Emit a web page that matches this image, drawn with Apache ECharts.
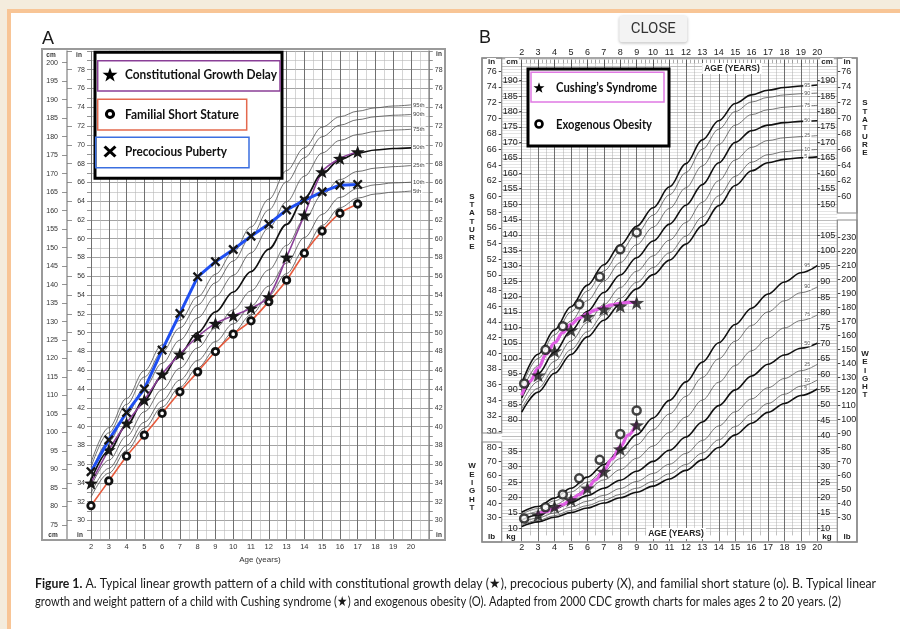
<!DOCTYPE html>
<html>
<head>
<meta charset="utf-8">
<title>Growth charts – linear growth and weight patterns</title>
<script src="https://cdn.jsdelivr.net/npm/echarts@6.0.0/dist/echarts.min.js"></script>
<style>
  html, body { margin: 0; padding: 0; background: #ffffff; }
  #chart { width: 900px; height: 629px; }
</style>
</head>
<body>
<div id="chart"></div>
<script>
// ---------- CDC reference percentiles, boys 2–20 years ----------
const PCT_AGES = [2, 3, 4, 5, 6, 7, 8, 9, 10, 11, 12, 13, 14, 15, 16, 17, 18, 19, 20];
const PCT_NAMES = ['5th', '10th', '25th', '50th', '75th', '90th', '95th'];

// stature (cm)
const STATURE_P5  = [82.5, 89.0, 95.1, 101.2, 106.9, 112.3, 117.5, 122.5, 127.1, 131.8, 137.0, 143.0, 149.5, 156.0, 160.8, 163.4, 164.5, 165.0, 165.3];
const STATURE_P10 = [83.6, 90.3, 96.5, 102.8, 108.6, 114.2, 119.5, 124.6, 129.4, 134.2, 139.6, 145.8, 152.7, 159.0, 163.6, 166.0, 167.0, 167.5, 167.7];
const STATURE_P25 = [85.3, 92.5, 99.0, 105.6, 111.6, 117.4, 122.9, 128.2, 133.2, 138.3, 144.0, 150.6, 157.6, 164.3, 168.4, 170.6, 171.5, 171.9, 172.2];
const STATURE_P50 = [87.1, 95.0, 102.0, 108.9, 115.2, 121.3, 127.0, 132.6, 138.0, 143.5, 149.6, 156.3, 163.4, 170.0, 173.8, 175.6, 176.4, 176.8, 177.0];
const STATURE_P75 = [88.9, 97.6, 104.9, 112.1, 118.7, 125.0, 131.0, 136.8, 142.5, 148.6, 155.3, 162.4, 169.3, 175.6, 179.0, 180.6, 181.4, 181.8, 182.0];
const STATURE_P90 = [90.6, 99.9, 107.6, 115.0, 121.8, 128.3, 134.5, 140.5, 146.4, 153.0, 160.2, 167.8, 174.3, 180.0, 183.1, 184.6, 185.4, 185.8, 186.0];
const STATURE_P95 = [91.8, 101.3, 109.2, 116.7, 123.7, 130.3, 136.7, 142.8, 148.8, 155.6, 163.1, 170.8, 177.0, 182.6, 185.4, 186.9, 187.8, 188.3, 188.6];

// weight (kg)
const WEIGHT_P5  = [10.6, 12.1, 13.6, 15.1, 16.6, 18.2, 19.9, 21.7, 23.7, 26.0, 28.8, 32.2, 36.2, 40.3, 44.1, 47.6, 50.5, 53.1, 55.2];
const WEIGHT_P10 = [11.0, 12.6, 14.1, 15.8, 17.4, 19.1, 21.0, 23.0, 25.2, 27.7, 30.7, 34.4, 38.7, 43.0, 47.0, 50.5, 53.5, 56.1, 58.1];
const WEIGHT_P25 = [11.8, 13.4, 15.0, 16.9, 18.8, 20.7, 22.9, 25.2, 27.8, 30.8, 34.3, 38.5, 43.2, 47.8, 52.0, 55.6, 58.6, 61.1, 63.2];
const WEIGHT_P50 = [12.7, 14.3, 16.3, 18.4, 20.6, 23.0, 25.6, 28.5, 31.7, 35.3, 39.6, 44.5, 49.8, 54.9, 59.4, 63.2, 66.2, 68.4, 70.0];
const WEIGHT_P75 = [13.7, 15.4, 17.6, 20.1, 22.8, 25.7, 29.0, 32.7, 36.7, 41.1, 46.1, 51.6, 57.4, 62.8, 67.6, 71.7, 75.0, 77.4, 79.2];
const WEIGHT_P90 = [14.6, 16.4, 18.9, 21.8, 25.0, 28.6, 32.6, 37.1, 42.0, 47.1, 52.8, 58.9, 65.0, 70.7, 75.8, 80.2, 83.8, 86.4, 88.3];
const WEIGHT_P95 = [15.2, 17.1, 19.8, 23.0, 26.6, 30.7, 35.3, 40.4, 45.8, 51.5, 57.5, 63.9, 70.2, 76.1, 81.4, 86.0, 89.9, 92.9, 95.2];

// ---------- Panel A: stature (cm) of three example children ----------
const CGD_AGES = [2, 3, 4, 5, 6, 7, 8, 9, 10, 11, 12, 13, 14, 15, 16, 17];
const CGD_STATURE = [86.3, 95.3, 102.5, 108.8, 115.8, 121.2, 125.9, 129.5, 131.6, 133.6, 136.7, 147.4, 158.8, 170.5, 174.1, 175.9];
const FSS_AGES = [2, 3, 4, 5, 6, 7, 8, 9, 10, 11, 12, 13, 14, 15, 16, 17];
const FSS_STATURE = [80.2, 86.9, 93.6, 99.3, 105.2, 111.0, 116.4, 121.9, 126.6, 130.2, 135.4, 141.2, 148.5, 154.5, 159.3, 161.8];
const PP_AGES = [2, 3, 4, 5, 6, 7, 8, 9, 10, 11, 12, 13, 14, 15, 16, 17];
const PP_STATURE = [89.4, 98.0, 105.4, 111.8, 122.3, 132.2, 142.1, 146.2, 149.5, 153.1, 156.4, 160.2, 162.8, 165.1, 166.9, 167.1];

// ---------- Panel B: stature (cm) and weight (kg) ----------
const CUSHING_AGES = [3, 4, 5, 6, 7, 8, 9];
const CUSHING_STATURE = [94.5, 102.3, 109.1, 113.5, 115.9, 116.9, 118.0];
const CUSHING_WEIGHT = [14.3, 17.0, 19.2, 23.0, 28.4, 35.7, 43.5];
const OBESITY_AGES = [2.15, 3.45, 4.5, 5.5, 6.75, 8.0, 9.0];
const OBESITY_STATURE = [91.8, 102.7, 110.4, 117.5, 126.4, 135.3, 140.8];
const OBESITY_WEIGHT = [13.2, 16.8, 21.0, 26.2, 32.2, 40.6, 48.2];
// drawn trend curves for the Cushing child
const CUSHING_TREND_STATURE_AGES = [2, 2.5, 3, 3.5, 4, 4.5, 5, 5.5, 6, 6.5, 7, 7.5, 8, 8.5, 9];
const CUSHING_TREND_STATURE = [88.0, 92.5, 96.8, 101.3, 105.0, 108.3, 111.0, 113.0, 114.5, 115.7, 116.6, 117.3, 117.8, 118.1, 118.2];
const CUSHING_TREND_WEIGHT_AGES = [2.9, 3.5, 4, 4.5, 5, 5.5, 6, 6.5, 7, 7.5, 8, 8.5, 9];
const CUSHING_TREND_WEIGHT = [14.6, 15.4, 16.5, 17.7, 19.2, 20.9, 23.0, 25.7, 28.9, 32.5, 36.5, 40.3, 44.3];

// ---------- tick labels ----------
const A_CM_LABELS = [75, 80, 85, 90, 95, 100, 105, 110, 115, 120, 125, 130, 135, 140, 145, 150, 155, 160, 165, 170, 175, 180, 185, 190, 195, 200];
const A_IN_LABELS = [30, 32, 34, 36, 38, 40, 42, 44, 46, 48, 50, 52, 54, 56, 58, 60, 62, 64, 66, 68, 70, 72, 74, 76, 78];
const B_CM_LEFT = [80, 85, 90, 95, 100, 105, 110, 115, 120, 125, 130, 135, 140, 145, 150, 155, 160, 165, 170, 175, 180, 185, 190];
const B_CM_RIGHT = [150, 155, 160, 165, 170, 175, 180, 185, 190];
const B_IN_LEFT = [30, 32, 34, 36, 38, 40, 42, 44, 46, 48, 50, 52, 54, 56, 58, 60, 62, 64, 66, 68, 70, 72, 74, 76];
const B_IN_RIGHT = [60, 62, 64, 66, 68, 70, 72, 74, 76];
const B_KG_LEFT = [10, 15, 20, 25, 30, 35];
const B_KG_RIGHT = [10, 15, 20, 25, 30, 35, 40, 45, 50, 55, 60, 65, 70, 75, 80, 85, 90, 95, 100, 105];
const B_LB_LEFT = [30, 40, 50, 60, 70, 80];
const B_LB_RIGHT = [30, 40, 50, 60, 70, 80, 90, 100, 110, 120, 130, 140, 150, 160, 170, 180, 190, 200, 210, 220, 230];

// ---------- shared styling ----------
const FONT = '"Liberation Sans", Arial, Helvetica, sans-serif';
const LEGEND_FONT = 'Lato, "Open Sans", sans-serif';
// star and cross outlines, used both as series symbols and legend icons
const STAR_PTS = [[10, 0], [12.35, 6.76], [19.51, 6.91], [13.8, 11.24], [15.88, 18.09], [10, 14], [4.12, 18.09], [6.2, 11.24], [0.49, 6.91], [7.65, 6.76]];
const CROSS_PTS = [[0, 2], [2, 0], [6, 4], [10, 0], [12, 2], [8, 6], [12, 10], [10, 12], [6, 8], [2, 12], [0, 10], [4, 6]];
const toSvg = pts => 'path://M' + pts.map(p => p.join(',')).join(' L') + ' Z';
const COL_PURPLE = '#8a3f97';
const COL_RED = '#e65a3c';
const COL_BLUE = '#1f4ff2';
const COL_PINK = '#e05fe4';

const CM_PER_IN = 2.54;
const LB_PER_KG = 2.20462;
// panel B: stature (cm) and weight (kg) share one pixel scale; cm = kg + shift
const B_KG_MIN = 9, B_KG_MAX = 162, B_CM_SHIFT = 34.82;

const zip = (xs, ys) => xs.map((x, i) => [x, ys[i]]);

// text measuring, used to fit text runs to their widths
const measureCtx = document.createElement('canvas').getContext('2d');
function textWidth(str, font) { measureCtx.font = font; return measureCtx.measureText(str).width; }

// ---------- series ----------
const series = [];
const STATURE_SETS = [STATURE_P5, STATURE_P10, STATURE_P25, STATURE_P50, STATURE_P75, STATURE_P90, STATURE_P95];
const WEIGHT_SETS = [WEIGHT_P5, WEIGHT_P10, WEIGHT_P25, WEIGHT_P50, WEIGHT_P75, WEIGHT_P90, WEIGHT_P95];

// Panel A percentile curves
STATURE_SETS.forEach((vals, i) => {
  const bold = i === 3;
  series.push({
    type: 'line', name: PCT_NAMES[i], xAxisIndex: 0, yAxisIndex: 2,
    data: zip(PCT_AGES, vals), smooth: 0.35, smoothMonotone: 'x',
    symbol: 'none', silent: true, z: 3,
    lineStyle: { color: bold ? '#111' : '#4d4d4d', width: bold ? 1.7 : 0.8 },
    endLabel: { show: true, formatter: PCT_NAMES[i], fontSize: 6, color: '#444', fontFamily: FONT,
      backgroundColor: '#fff', padding: [0, 1], distance: 1 }
  });
});

// Panel B percentile curves (stature and weight)
const B_PCT_LABELS = ['5', '10', '25', '50', '75', '90', '95'];
STATURE_SETS.forEach((vals, i) => {
  const bold = i === 0 || i === 3 || i === 6;
  series.push({
    type: 'line', name: 'B stature ' + B_PCT_LABELS[i], xAxisIndex: 1, yAxisIndex: 4,
    data: zip(PCT_AGES, vals), smooth: 0.35, smoothMonotone: 'x',
    symbol: 'none', silent: true, z: 3,
    lineStyle: { color: bold ? '#111' : '#555', width: bold ? 1.6 : 0.8 },
    endLabel: { show: true, formatter: B_PCT_LABELS[i], fontSize: 5.5, color: '#555', fontFamily: FONT,
      backgroundColor: '#fff', padding: [0, 1], distance: 0, offset: [-14, 0] }
  });
});
WEIGHT_SETS.forEach((vals, i) => {
  const bold = i === 0 || i === 3 || i === 6;
  series.push({
    type: 'line', name: 'B weight ' + B_PCT_LABELS[i], xAxisIndex: 1, yAxisIndex: 5,
    data: zip(PCT_AGES, vals), smooth: 0.35, smoothMonotone: 'x',
    symbol: 'none', silent: true, z: 3,
    lineStyle: { color: bold ? '#111' : '#555', width: bold ? 1.6 : 0.8 },
    endLabel: { show: true, formatter: B_PCT_LABELS[i], fontSize: 5.5, color: '#555', fontFamily: FONT,
      backgroundColor: '#fff', padding: [0, 1], distance: 0, offset: [-14, 0] }
  });
});

// Panel A children
series.push({
  type: 'line', name: 'Familial Short Stature', xAxisIndex: 0, yAxisIndex: 2,
  data: zip(FSS_AGES, FSS_STATURE), smooth: 0.25, z: 6,
  lineStyle: { color: COL_RED, width: 1.6 },
  symbol: 'circle', symbolSize: 6.5,
  itemStyle: { color: '#fff', borderColor: '#111', borderWidth: 2.8 }
});
series.push({
  type: 'line', name: 'Constitutional Growth Delay', xAxisIndex: 0, yAxisIndex: 2,
  data: zip(CGD_AGES, CGD_STATURE), smooth: 0.3, z: 7,
  lineStyle: { color: COL_PURPLE, width: 1.6 },
  symbol: toSvg(STAR_PTS), symbolSize: [14, 13],
  itemStyle: { color: '#161616' }
});
series.push({
  type: 'line', name: 'Precocious Puberty', xAxisIndex: 0, yAxisIndex: 2,
  data: zip(PP_AGES, PP_STATURE), smooth: false, z: 8,
  lineStyle: { color: COL_BLUE, width: 3 },
  symbol: toSvg(CROSS_PTS), symbolSize: 10,
  itemStyle: { color: '#161616' }
});

// Panel B children
series.push({
  type: 'line', name: 'Cushing stature trend', xAxisIndex: 1, yAxisIndex: 4,
  data: zip(CUSHING_TREND_STATURE_AGES, CUSHING_TREND_STATURE), smooth: 0.4, smoothMonotone: 'x',
  symbol: 'none', z: 5, lineStyle: { color: COL_PINK, width: 3.2 }
});
series.push({
  type: 'line', name: 'Cushing weight trend', xAxisIndex: 1, yAxisIndex: 5,
  data: zip(CUSHING_TREND_WEIGHT_AGES, CUSHING_TREND_WEIGHT), smooth: 0.4, smoothMonotone: 'x',
  symbol: 'none', z: 5, lineStyle: { color: COL_PINK, width: 3.2 }
});
[[CUSHING_STATURE, 4], [CUSHING_WEIGHT, 5]].forEach(([vals, ax]) => {
  series.push({
    type: 'scatter', name: "Cushing's Syndrome", xAxisIndex: 1, yAxisIndex: ax,
    data: zip(CUSHING_AGES, vals), symbol: toSvg(STAR_PTS), symbolSize: [15, 14], z: 6,
    itemStyle: { color: '#161616' }
  });
});
[[OBESITY_STATURE, 4], [OBESITY_WEIGHT, 5]].forEach(([vals, ax]) => {
  series.push({
    type: 'scatter', name: 'Exogenous Obesity', xAxisIndex: 1, yAxisIndex: ax,
    data: zip(OBESITY_AGES, vals), symbol: 'circle', symbolSize: 8, z: 7,
    itemStyle: { color: '#fff', borderColor: '#161616', borderWidth: 2.5 }
  });
});

// ---------- axes ----------
const hideAll = { axisLine: { show: false }, axisTick: { show: false }, axisLabel: { show: false }, splitLine: { show: false } };
const lbl = (extra) => Object.assign({ fontSize: 9, color: '#222', fontFamily: FONT }, extra);

const xAxis = [
  { // A bottom
    gridIndex: 0, type: 'value', min: 2, max: 21, interval: 1, position: 'bottom',
    axisLine: { show: false }, axisTick: { show: false },
    axisLabel: { fontSize: 7.5, color: '#333', fontFamily: FONT, margin: 4,
      formatter: v => (v >= 2 && v <= 20) ? String(v) : '' },
    splitLine: { show: true, lineStyle: { color: '#707070', width: 1 } },
    minorTick: { show: false, splitNumber: 2 },
    minorSplitLine: { show: true, lineStyle: { color: '#b9b9b9', width: 0.6 } },
    name: 'Age (years)', nameLocation: 'middle', nameGap: 16,
    nameTextStyle: { fontSize: 8, color: '#333', fontFamily: FONT }
  },
  { // B bottom
    gridIndex: 1, type: 'value', min: 2, max: 20, interval: 1, position: 'bottom',
    axisLine: { show: false },
    axisTick: { show: true, length: 10, lineStyle: { color: '#666', width: 0.9 } },
    minorTick: { show: true, splitNumber: 2, length: 4, lineStyle: { color: '#999', width: 0.6 } },
    axisLabel: lbl({ margin: 11.5 }),
    splitLine: { show: true, lineStyle: { color: '#5f5f5f', width: 0.9 } },
    minorSplitLine: { show: true, lineStyle: { color: '#ababab', width: 0.5 } }
  },
  { // B top ruler
    gridIndex: 1, type: 'value', min: 2, max: 20, interval: 1, position: 'top',
    axisLine: { show: false },
    axisTick: { show: true, inside: true, length: 7, lineStyle: { color: '#555', width: 0.9 } },
    minorTick: { show: true, splitNumber: 4, length: 3.5, lineStyle: { color: '#777', width: 0.6 } },
    axisLabel: lbl({ margin: 3 }),
    splitLine: { show: false }
  },
  Object.assign({ gridIndex: 2, type: 'value', min: 0, max: 1 }, hideAll)
];

const yAxis = [
  { // 0: A inches, left (also carries the horizontal grid)
    gridIndex: 0, type: 'value', min: 28, max: 80, interval: 1, position: 'left',
    axisLine: { show: false },
    axisTick: { show: true, length: 4, lineStyle: { color: '#777', width: 0.8 } },
    axisLabel: { fontSize: 7, color: '#333', fontFamily: FONT, margin: 6,
      formatter: v => A_IN_LABELS.includes(v) ? String(v) : '' },
    splitLine: { show: true, lineStyle: { color: ['#8c8c8c', '#c8c8c8'], width: 0.8 } }
  },
  { // 1: A inches, right
    gridIndex: 0, type: 'value', min: 28, max: 80, interval: 1, position: 'right',
    axisLine: { show: true, lineStyle: { color: '#9a9a9a', width: 1.5 } },
    axisTick: { show: true, length: 4, lineStyle: { color: '#777', width: 0.8 } },
    axisLabel: { fontSize: 7, color: '#333', fontFamily: FONT, margin: 6,
      formatter: v => A_IN_LABELS.includes(v) ? String(v) : '' },
    splitLine: { show: false }
  },
  { // 2: A centimetres (data axis)
    gridIndex: 0, type: 'value', min: 28 * CM_PER_IN, max: 80 * CM_PER_IN, position: 'left', offset: 24,
    axisLine: { show: true, lineStyle: { color: '#9a9a9a', width: 1.5 } },
    axisTick: { show: true, length: 5, customValues: A_CM_LABELS, lineStyle: { color: '#777', width: 0.8 } },
    axisLabel: { fontSize: 7, color: '#333', fontFamily: FONT, margin: 9, customValues: A_CM_LABELS },
    splitLine: { show: false }
  },
  { // 3: A inch marks along the cm/in divider
    gridIndex: 0, type: 'value', min: 28, max: 80, interval: 2, position: 'left', offset: 24,
    axisLine: { show: false }, axisLabel: { show: false }, splitLine: { show: false },
    axisTick: { show: true, inside: true, length: 5, lineStyle: { color: '#777', width: 0.8 } }
  },
  { // 4: B stature cm, left (data axis)
    gridIndex: 1, type: 'value', min: B_KG_MIN + B_CM_SHIFT, max: B_KG_MAX + B_CM_SHIFT, position: 'left',
    axisLine: { show: false }, splitLine: { show: false },
    axisTick: { show: true, length: 2.5, customValues: B_CM_LEFT, lineStyle: { color: '#444' } },
    axisLabel: lbl({ margin: 4, customValues: B_CM_LEFT })
  },
  { // 5: B weight kg, left (data axis)
    gridIndex: 1, type: 'value', min: B_KG_MIN, max: B_KG_MAX, position: 'left',
    axisLine: { show: false }, splitLine: { show: false },
    axisTick: { show: true, length: 2.5, customValues: B_KG_LEFT, lineStyle: { color: '#444' } },
    axisLabel: lbl({ margin: 4, customValues: B_KG_LEFT })
  },
  { // 6: B stature inches, left
    gridIndex: 1, type: 'value', min: (B_KG_MIN + B_CM_SHIFT) / CM_PER_IN, max: (B_KG_MAX + B_CM_SHIFT) / CM_PER_IN,
    position: 'left', offset: 20, axisLine: { show: false }, splitLine: { show: false },
    axisTick: { show: true, length: 3, customValues: B_IN_LEFT, lineStyle: { color: '#444' } },
    axisLabel: lbl({ margin: 5, customValues: B_IN_LEFT })
  },
  { // 7: B weight pounds, left
    gridIndex: 1, type: 'value', min: B_KG_MIN * LB_PER_KG, max: B_KG_MAX * LB_PER_KG,
    position: 'left', offset: 20, axisLine: { show: false }, splitLine: { show: false },
    axisTick: { show: true, length: 3, customValues: B_LB_LEFT, lineStyle: { color: '#444' } },
    axisLabel: lbl({ margin: 5, customValues: B_LB_LEFT })
  },
  { // 8: B stature cm, right
    gridIndex: 1, type: 'value', min: B_KG_MIN + B_CM_SHIFT, max: B_KG_MAX + B_CM_SHIFT, position: 'right',
    axisLine: { show: false }, splitLine: { show: false },
    axisTick: { show: true, length: 2.5, customValues: B_CM_RIGHT, lineStyle: { color: '#444' } },
    axisLabel: lbl({ margin: 3, customValues: B_CM_RIGHT })
  },
  { // 9: B weight kg, right
    gridIndex: 1, type: 'value', min: B_KG_MIN, max: B_KG_MAX, position: 'right',
    axisLine: { show: false }, splitLine: { show: false },
    axisTick: { show: true, length: 2.5, customValues: B_KG_RIGHT, lineStyle: { color: '#444' } },
    axisLabel: lbl({ margin: 3, customValues: B_KG_RIGHT })
  },
  { // 10: B stature inches, right
    gridIndex: 1, type: 'value', min: (B_KG_MIN + B_CM_SHIFT) / CM_PER_IN, max: (B_KG_MAX + B_CM_SHIFT) / CM_PER_IN,
    position: 'right', offset: 20, axisLine: { show: false }, splitLine: { show: false },
    axisTick: { show: true, length: 3, customValues: B_IN_RIGHT, lineStyle: { color: '#444' } },
    axisLabel: lbl({ margin: 4, customValues: B_IN_RIGHT })
  },
  { // 11: B weight pounds, right
    gridIndex: 1, type: 'value', min: B_KG_MIN * LB_PER_KG, max: B_KG_MAX * LB_PER_KG,
    position: 'right', offset: 20, axisLine: { show: false }, splitLine: { show: false },
    axisTick: { show: true, length: 3, customValues: B_LB_RIGHT, lineStyle: { color: '#444' } },
    axisLabel: lbl({ margin: 4, customValues: B_LB_RIGHT })
  },
  { // 12: B horizontal rulings, one per kilogram (bolder every 5)
    gridIndex: 2, type: 'value', min: B_KG_MIN, max: B_KG_MAX, interval: 1,
    axisLine: { show: false }, axisTick: { show: false }, axisLabel: { show: false },
    splitLine: { show: true, lineStyle: { color: ['#d2d2d2', '#8e8e8e', '#d2d2d2', '#d2d2d2', '#d2d2d2'], width: 0.6 } }
  }
];

// ---------- drawn furniture: frames, headers, legends, caption ----------
const G = [];
const rect = (x, y, w, h, style, z) => ({ type: 'rect', shape: { x, y, width: w, height: h }, style, z: z || 100, silent: true });
const txt = (x, y, text, extra, z) => ({
  type: 'text', x, y, z: z || 110, silent: true,
  style: Object.assign({ text, fontFamily: FONT, fontSize: 8, fill: '#222', align: 'center', verticalAlign: 'middle' }, extra)
});

// page edge
G.push(rect(0, 0, 900, 9, { fill: '#f4ecdd' }, 90));
G.push(rect(0, 9, 900, 4, { fill: '#f8c596' }, 91));
G.push(rect(0, 0, 7, 629, { fill: '#f4ecdd' }, 92));
G.push(rect(7, 9, 4, 620, { fill: '#f8c596' }, 93));

// panel letters
G.push(txt(42, 39.5, 'A', { fontSize: 18, align: 'left', fill: '#1a1a1a' }));
G.push(txt(479, 38.5, 'B', { fontSize: 18, align: 'left', fill: '#1a1a1a' }));

// panel A frame and column headers
G.push(rect(42, 49, 403, 491, { fill: 'none', stroke: '#9a9a9a', lineWidth: 2 }));
const hdrA = { fontSize: 6.5, fontWeight: 'bold', fill: '#333' };
G.push(txt(51, 55, 'cm', hdrA));
G.push(txt(79, 55, 'in', hdrA));
G.push(txt(439, 54, 'in', hdrA));
G.push(txt(53, 535, 'cm', hdrA));
G.push(txt(80, 535, 'in', hdrA));
G.push(txt(439, 535, 'in', hdrA));

// panel B frame, unit columns and headers
const boxB = { fill: 'none', stroke: '#8a8a8a', lineWidth: 1.2 };
G.push(rect(482, 58, 375, 484, { fill: 'none', stroke: '#8a8a8a', lineWidth: 1.5 }));
G.push(rect(482, 58, 19.7, 375, boxB, 101));
G.push(rect(482, 442, 19.7, 100, boxB, 101));
G.push(rect(837.3, 58, 19.7, 155, boxB, 101));
G.push(rect(837.3, 220, 19.7, 322, boxB, 101));
// blank band between stature and weight unit columns
G.push(rect(482.8, 433.6, 18.2, 7.8, { fill: '#fff' }, 99));
G.push(rect(838, 213.6, 18.4, 5.8, { fill: '#fff' }, 99));
const hdrB = { fontSize: 8, fontWeight: 'bold', fill: '#222', backgroundColor: '#fff', padding: [0, 1] };
G.push(txt(491.5, 62, 'in', hdrB));
G.push(txt(512, 62, 'cm', hdrB));
G.push(txt(827, 62, 'cm', hdrB));
G.push(txt(847, 62, 'in', hdrB));
G.push(txt(491.5, 537, 'lb', hdrB));
G.push(txt(511, 537, 'kg', hdrB));
G.push(txt(827, 537, 'kg', hdrB));
G.push(txt(847, 537, 'lb', hdrB));
G.push(txt(732, 68.5, 'AGE (YEARS)', { fontSize: 8.5, fontWeight: 'bold', backgroundColor: '#fff', padding: [1, 2] }));
G.push(txt(676, 533.5, 'AGE (YEARS)', { fontSize: 8.5, fontWeight: 'bold', backgroundColor: '#fff', padding: [1, 2] }));
const vert = { fontSize: 8, fontWeight: 'bold', lineHeight: 8.3, fill: '#222' };
G.push(txt(472, 221.5, 'S\nT\nA\nT\nU\nR\nE', vert));
G.push(txt(865, 128, 'S\nT\nA\nT\nU\nR\nE', vert));
G.push(txt(472, 487, 'W\nE\nI\nG\nH\nT', vert));
G.push(txt(865, 374.5, 'W\nE\nI\nG\nH\nT', vert));

// fitted legend/caption text runs (scaled horizontally to their set widths)
function fittedText(x, y, text, font, size, weight, target, fill, z) {
  const w = textWidth(text, `${weight} ${size}px ${font}`);
  return {
    type: 'text', x, y, z: z || 130, silent: true, scaleX: target / w, originX: 0, originY: 0,
    style: { text, fontFamily: font, fontSize: size, fontWeight: weight, fill: fill || '#111', align: 'left', verticalAlign: 'middle' }
  };
}
function iconPoly(pts, cx, cy, w, h) {
  const xs = pts.map(p => p[0]), ys = pts.map(p => p[1]);
  const x0 = Math.min(...xs), x1 = Math.max(...xs), y0 = Math.min(...ys), y1 = Math.max(...ys);
  const points = pts.map(p => [cx - w / 2 + (p[0] - x0) / (x1 - x0) * w, cy - h / 2 + (p[1] - y0) / (y1 - y0) * h]);
  return { type: 'polygon', z: 130, silent: true, shape: { points }, style: { fill: '#000' } };
}
const iconRing = (cx, cy, r, lw) => ({ type: 'circle', z: 130, silent: true,
  shape: { cx, cy, r }, style: { fill: '#fff', stroke: '#000', lineWidth: lw } });

// legend A
G.push(rect(95, 52.3, 187, 126, { fill: '#fff', stroke: '#000', lineWidth: 3 }, 120));
G.push(rect(97.7, 60.7, 182.3, 30.3, { fill: 'none', stroke: COL_PURPLE, lineWidth: 1.5 }, 125));
G.push(rect(97.7, 99.3, 149, 30.7, { fill: 'none', stroke: '#e4694e', lineWidth: 1.5 }, 125));
G.push(rect(95.7, 137.3, 153.3, 30.4, { fill: 'none', stroke: '#3b6fe0', lineWidth: 1.5 }, 125));
G.push(iconPoly(STAR_PTS, 110, 74.5, 15, 14));
G.push(iconRing(110, 114, 3.6, 3));
G.push(iconPoly(CROSS_PTS, 110, 151.5, 13, 12));
G.push(fittedText(125, 75, 'Constitutional Growth Delay', LEGEND_FONT, 13.5, 'bold', 152));
G.push(fittedText(125, 114.5, 'Familial Short Stature', LEGEND_FONT, 13.5, 'bold', 114));
G.push(fittedText(125, 151.5, 'Precocious Puberty', LEGEND_FONT, 13.5, 'bold', 102));

// legend B
G.push(rect(528, 69, 141, 77, { fill: '#fff', stroke: '#000', lineWidth: 3 }, 120));
G.push(rect(531, 72.3, 133, 29.7, { fill: 'none', stroke: '#e07ae3', lineWidth: 1.5 }, 125));
G.push(iconPoly(STAR_PTS, 539, 87.5, 11, 10.5));
G.push(iconRing(539, 124, 3.5, 2.6));
G.push(fittedText(556, 88, 'Cushing\u2019s Syndrome', LEGEND_FONT, 12.5, 'bold', 101));
G.push(fittedText(556, 124.5, 'Exogenous Obesity', LEGEND_FONT, 12.5, 'bold', 96));

// close button
G.push({ type: 'rect', z: 140, silent: true, shape: { x: 619.3, y: 15.7, width: 68, height: 26.6, r: 3 },
  style: { fill: '#f3f3f3', shadowBlur: 3, shadowColor: 'rgba(0,0,0,0.28)', shadowOffsetY: 1 } });
G.push(txt(653.3, 29.2, 'CLOSE', { fontSize: 15, fontFamily: 'Roboto, Arial, sans-serif', fill: '#333' }, 145));

// caption
const CAP_FONT = 'Lato, "Open Sans", sans-serif';
const CAP_SIZE = 13.5;
const CAP_BOLD = 'Figure 1.';
const CAP_LINE1 = ' A. Typical linear growth pattern of a child with constitutional growth delay (\u2605), precocious puberty (X), and familial short stature (o). B. Typical linear';
const CAP_LINE2 = 'growth and weight pattern of a child with Cushing syndrome (\u2605) and exogenous obesity (O). Adapted from 2000 CDC growth charts for males ages 2 to 20 years. (2)';
(function () {
  const wb = textWidth(CAP_BOLD, `bold ${CAP_SIZE}px ${CAP_FONT}`);
  const wn = textWidth(CAP_LINE1, `normal ${CAP_SIZE}px ${CAP_FONT}`);
  const s = (876 - 35) / (wb + wn);
  G.push({ type: 'text', x: 35, y: 584, z: 130, silent: true, scaleX: s,
    style: { text: CAP_BOLD, fontFamily: CAP_FONT, fontSize: CAP_SIZE, fontWeight: 'bold', fill: '#1a1a1a', align: 'left', verticalAlign: 'middle' } });
  G.push({ type: 'text', x: 35 + wb * s, y: 584, z: 130, silent: true, scaleX: s,
    style: { text: CAP_LINE1, fontFamily: CAP_FONT, fontSize: CAP_SIZE, fill: '#1a1a1a', align: 'left', verticalAlign: 'middle' } });
  G.push(fittedText(35, 602, CAP_LINE2, CAP_FONT, CAP_SIZE, 'normal', 841 - 35, '#1a1a1a'));
})();

const option = {
  animation: false,
  backgroundColor: '#ffffff',
  grid: [
    { left: 91, top: 50.9, width: 337.8, height: 488.4, show: false },
    { left: 521.7, top: 59.7, width: 295.6, height: 471.7, show: false },
    { left: 501.7, top: 59.7, width: 335.6, height: 471.7, show: false }
  ],
  xAxis, yAxis, series,
  graphic: { elements: G }
};

const chart = echarts.init(document.getElementById('chart'), null, { renderer: 'canvas' });
chart.setOption(option);
</script>
</body>
</html>
